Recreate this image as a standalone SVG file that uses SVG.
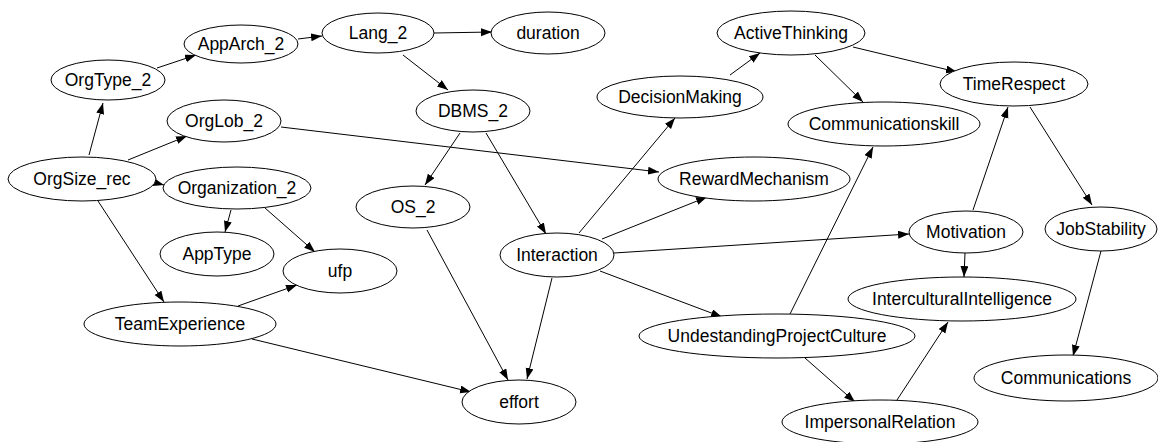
<svg xmlns="http://www.w3.org/2000/svg" width="1158" height="442" viewBox="0 0 1158 442">
<style>
.n ellipse{fill:#fff;stroke:#000;stroke-width:1}
.n text{font-family:"Liberation Sans",Arial,sans-serif;font-size:17.5px;fill:#000;text-anchor:middle}
.e line{stroke:#000;stroke-width:1;marker-end:url(#ah)}
</style>
<defs>
<marker id="ah" markerUnits="userSpaceOnUse" markerWidth="12" markerHeight="9" refX="11" refY="4" orient="auto">
<path d="M0,0 L11,4 L0,8 z" fill="#000"/>
</marker>
</defs>
<rect width="1158" height="442" fill="#fff"/>
<g id="connectors" class="e">
<line x1="157" y1="68" x2="196" y2="55"/>
<line x1="298" y1="39" x2="322" y2="36"/>
<line x1="434" y1="33" x2="492" y2="32"/>
<line x1="403" y1="55" x2="448" y2="90"/>
<line x1="89" y1="155" x2="103" y2="103"/>
<line x1="128" y1="160" x2="187" y2="136"/>
<line x1="153" y1="182" x2="164" y2="185"/>
<line x1="98" y1="201" x2="164" y2="302"/>
<line x1="281" y1="127" x2="659" y2="172"/>
<line x1="231" y1="210" x2="225" y2="232"/>
<line x1="265" y1="208" x2="315" y2="252"/>
<line x1="238" y1="306" x2="297" y2="285"/>
<line x1="252" y1="339" x2="471" y2="392"/>
<line x1="460" y1="133" x2="425" y2="185"/>
<line x1="486" y1="133" x2="546" y2="234"/>
<line x1="427" y1="230" x2="508" y2="380"/>
<line x1="552" y1="278" x2="527" y2="379"/>
<line x1="579" y1="233" x2="675" y2="118"/>
<line x1="602" y1="239" x2="707" y2="197"/>
<line x1="614" y1="253" x2="909" y2="234"/>
<line x1="600" y1="271" x2="722" y2="317"/>
<line x1="730" y1="75" x2="760" y2="53"/>
<line x1="853" y1="47" x2="957" y2="72"/>
<line x1="815" y1="55" x2="863" y2="102"/>
<line x1="790" y1="314" x2="873" y2="147"/>
<line x1="805" y1="358" x2="855" y2="402"/>
<line x1="897" y1="400" x2="948" y2="322"/>
<line x1="973" y1="210" x2="1008" y2="107"/>
<line x1="965" y1="253" x2="964" y2="277"/>
<line x1="1030" y1="107" x2="1092" y2="205"/>
<line x1="1101" y1="251" x2="1073" y2="356"/>
</g>
<g id="AppArch_2" class="n"><ellipse cx="241" cy="44" rx="57" ry="19"/><text x="241" y="50">AppArch_2</text></g>
<g id="Lang_2" class="n"><ellipse cx="378" cy="33" rx="56" ry="20"/><text x="378" y="39">Lang_2</text></g>
<g id="duration" class="n"><ellipse cx="548" cy="33" rx="57" ry="21"/><text x="548" y="39">duration</text></g>
<g id="OrgType_2" class="n"><ellipse cx="108" cy="80" rx="57" ry="20"/><text x="108" y="86">OrgType_2</text></g>
<g id="OrgLob_2" class="n"><ellipse cx="224" cy="121" rx="57" ry="21"/><text x="224" y="127">OrgLob_2</text></g>
<g id="OrgSize_rec" class="n"><ellipse cx="82" cy="179" rx="74" ry="22"/><text x="82" y="185">OrgSize_rec</text></g>
<g id="Organization_2" class="n"><ellipse cx="237" cy="188" rx="74" ry="21"/><text x="237" y="194">Organization_2</text></g>
<g id="AppType" class="n"><ellipse cx="217" cy="254" rx="57" ry="22"/><text x="217" y="260">AppType</text></g>
<g id="ufp" class="n"><ellipse cx="340" cy="271" rx="57" ry="22"/><text x="340" y="277">ufp</text></g>
<g id="TeamExperience" class="n"><ellipse cx="180" cy="324" rx="96" ry="22"/><text x="180" y="330">TeamExperience</text></g>
<g id="DBMS_2" class="n"><ellipse cx="473" cy="111" rx="57" ry="21"/><text x="473" y="117">DBMS_2</text></g>
<g id="OS_2" class="n"><ellipse cx="413" cy="207" rx="57" ry="21"/><text x="413" y="213">OS_2</text></g>
<g id="Interaction" class="n"><ellipse cx="557" cy="255" rx="57" ry="22"/><text x="557" y="261">Interaction</text></g>
<g id="effort" class="n"><ellipse cx="519" cy="402" rx="57" ry="22"/><text x="519" y="408">effort</text></g>
<g id="UndestandingProjectCulture" class="n"><ellipse cx="777" cy="336" rx="138" ry="22"/><text x="777" y="342">UndestandingProjectCulture</text></g>
<g id="DecisionMaking" class="n"><ellipse cx="680" cy="97" rx="83" ry="21"/><text x="680" y="103">DecisionMaking</text></g>
<g id="ActiveThinking" class="n"><ellipse cx="791" cy="33" rx="74" ry="22"/><text x="791" y="39">ActiveThinking</text></g>
<g id="TimeRespect" class="n"><ellipse cx="1014" cy="84" rx="74" ry="22"/><text x="1014" y="90">TimeRespect</text></g>
<g id="Communicationskill" class="n"><ellipse cx="884" cy="124" rx="96" ry="22"/><text x="884" y="130">Communicationskill</text></g>
<g id="RewardMechanism" class="n"><ellipse cx="754" cy="179" rx="96" ry="22"/><text x="754" y="185">RewardMechanism</text></g>
<g id="Motivation" class="n"><ellipse cx="966" cy="232" rx="57" ry="21"/><text x="966" y="238">Motivation</text></g>
<g id="JobStability" class="n"><ellipse cx="1101" cy="229" rx="56" ry="22"/><text x="1101" y="235">JobStability</text></g>
<g id="InterculturalIntelligence" class="n"><ellipse cx="962" cy="299" rx="114" ry="22"/><text x="962" y="305">InterculturalIntelligence</text></g>
<g id="Communications" class="n"><ellipse cx="1066" cy="378" rx="92" ry="23"/><text x="1066" y="384">Communications</text></g>
<g id="ImpersonalRelation" class="n"><ellipse cx="880" cy="422" rx="98" ry="22"/><text x="880" y="428">ImpersonalRelation</text></g>
</svg>
